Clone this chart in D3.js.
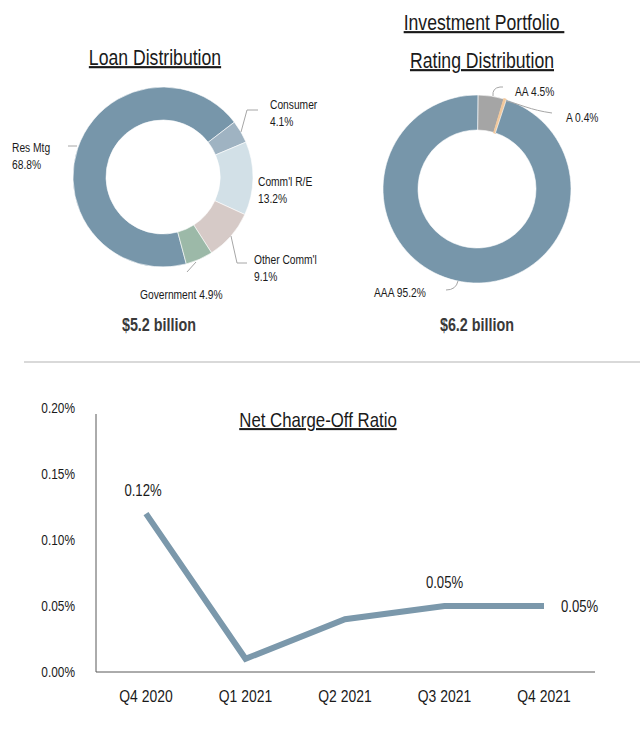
<!DOCTYPE html>
<html><head><meta charset="utf-8">
<script src="https://cdn.jsdelivr.net/npm/d3@7"></script>
<style>
html,body{margin:0;padding:0;background:#fff;}
text{font-family:"Liberation Sans",Arial,sans-serif;fill:#1a1a1a;}
</style></head>
<body>
<svg id="c" width="640" height="729"></svg>
<script>
// ---- data ----
const loanCategories = ["Res Mtg", "Consumer", "Comm'l R/E", "Other Comm'l", "Government"];
const loanValues = [68.8, 4.1, 13.2, 9.1, 4.9];
const ratingCategories = ["AA", "A", "AAA"];
const ratingValues = [4.5, 0.4, 95.2];
const quarters = ["Q4 2020", "Q1 2021", "Q2 2021", "Q3 2021", "Q4 2021"];
const ncoValues = [0.12, 0.01, 0.04, 0.05, 0.05];
const ncoLabels = ["0.12%", null, null, "0.05%", "0.05%"];
const yTicks = [0, 0.05, 0.10, 0.15, 0.20];

// ---- styles ----
const loanColors = ["#7796aa", "#9fb3c2", "#d2e0e7", "#d6cac7", "#9cb9a8"];
const ratingColors = ["#a5a5a5", "#f2c89c", "#7796aa"];
const lineColor = "#7b98ab";
const leaderColor = "#a6a6a6";
const SX = 0.82; // narrow-font emulation

const svg = d3.select("#c");
const marks = svg.append("g");
const texts = svg.append("g").attr("transform", `scale(${SX},1)`);

function T(x, y, s, size, opts = {}) {
  const t = texts.append("text").attr("x", x / SX).attr("y", y)
    .attr("text-anchor", opts.anchor || "start").style("font-size", size + "px");
  if (opts.bold) t.style("font-weight", "bold");
  if (opts.fill) t.style("fill", opts.fill);
  if (opts.underline) t.style("text-decoration", "underline");
  if (Array.isArray(s)) s.forEach((p, k) => t.append("tspan").attr("x", x / SX).attr("dy", k ? (opts.lh || 17) : 0).text(p));
  else t.text(s);
  return t;
}

// ---- Loan Distribution ----
T(155, 65, "Loan Distribution", 21.5, {anchor: "middle", underline: true});
const lc = {x: 163, y: 177};
const loanPie = d3.pie().sort(null).value(d => d)
  .startAngle(-195 * Math.PI / 180).endAngle(165 * Math.PI / 180);
const loanArc = d3.arc().innerRadius(57).outerRadius(90);
const lg = marks.append("g").attr("transform", `translate(${lc.x},${lc.y})`);
lg.selectAll("path").data(loanPie(loanValues)).join("path")
  .attr("d", loanArc).attr("fill", (d, i) => loanColors[i])
  .attr("stroke", "#fff").attr("stroke-width", 0.6);

const loanLabelLayout = [
  {x: 12, y: 152, leader: [[68, 146], [77, 146]]},
  {x: 270, y: 109, leader: [[241, 132], [247, 110], [258, 110]]},
  {x: 258, y: 186, leader: null},
  {x: 254, y: 264, leader: [[231, 236], [237, 263], [247, 263]]},
  {x: 140, y: 299, leader: [[196, 262], [187, 272]]}
];
loanLabelLayout.forEach((L, i) => {
  const pct = loanValues[i].toFixed(1) + "%";
  const parts = i === 4 ? [loanCategories[i] + " " + pct] : [loanCategories[i], pct];
  T(L.x, L.y, parts, 12.5);
  if (L.leader) marks.append("path").attr("d", d3.line()(L.leader)).attr("fill", "none")
    .attr("stroke", leaderColor).attr("stroke-width", 1);
});
T(159, 331, "$5.2 billion", 17.5, {anchor: "middle", bold: true, fill: "#3a3a3a"});

// ---- Investment Portfolio ----
T(484, 30, "Investment Portfolio\u00a0", 21.5, {anchor: "middle", underline: true});
T(482, 68, "Rating Distribution", 21.5, {anchor: "middle", underline: true});
const ic = {x: 477, y: 189};
const ratingPie = d3.pie().sort(null).value(d => d).startAngle(0.01).endAngle(2 * Math.PI + 0.01);
const ratingArc = d3.arc().innerRadius(59).outerRadius(94);
const ig = marks.append("g").attr("transform", `translate(${ic.x},${ic.y})`);
ig.selectAll("path").data(ratingPie(ratingValues)).join("path")
  .attr("d", ratingArc).attr("fill", (d, i) => ratingColors[i])
  .attr("stroke", (d, i) => i === 1 ? ratingColors[1] : "#fff").attr("stroke-width", (d, i) => i === 1 ? 1.5 : 0.6);

const ratingLabelLayout = [
  {x: 515, y: 96, leader: "M493,96 Q492,88 500,87 L503,87"},
  {x: 566, y: 122, leader: "M506,101 C520,104 530,110 552,113"},
  {x: 374, y: 297, leader: "M458,281 Q456,290 446,290"}
];
ratingLabelLayout.forEach((L, i) => {
  T(L.x, L.y, ratingCategories[i] + " " + ratingValues[i].toFixed(1) + "%", 12.5);
  marks.append("path").attr("d", L.leader).attr("fill", "none").attr("stroke", leaderColor).attr("stroke-width", 1);
});
T(477, 331, "$6.2 billion", 17.5, {anchor: "middle", bold: true, fill: "#3a3a3a"});

// ---- divider ----
marks.append("line").attr("x1", 24).attr("x2", 640).attr("y1", 362).attr("y2", 362)
  .attr("stroke", "#d9d9d9").attr("stroke-width", 2);

// ---- Net Charge-Off Ratio ----
const x = d3.scalePoint().domain(quarters).range([146, 544]);
const y = d3.scaleLinear().domain([0, 0.20]).range([672, 408]);
marks.append("line").attr("x1", 96).attr("x2", 96).attr("y1", 414).attr("y2", 672).attr("stroke", "#595959");
marks.append("line").attr("x1", 96).attr("x2", 595).attr("y1", 672).attr("y2", 672).attr("stroke", "#595959");
yTicks.forEach(d => T(75, y(d) + 5, d.toFixed(2) + "%", 14.5, {anchor: "end"}));
quarters.forEach(d => T(x(d), 702, d, 17, {anchor: "middle"}));

T(318, 427, "Net Charge-Off Ratio", 20.5, {anchor: "middle", underline: true});

marks.append("path").datum(ncoValues)
  .attr("d", d3.line().x((d, i) => x(quarters[i])).y(d => y(d)))
  .attr("fill", "none").attr("stroke", lineColor).attr("stroke-width", 6).attr("stroke-linejoin", "miter");

const lblPos = [
  {dx: -3, dy: -18, anchor: "middle"},
  null, null,
  {dx: 0, dy: -18, anchor: "middle"},
  {dx: 17, dy: 6, anchor: "start"}
];
ncoValues.forEach((v, i) => {
  if (!ncoLabels[i]) return;
  const p = lblPos[i];
  T(x(quarters[i]) + p.dx, y(v) + p.dy, ncoLabels[i], 16, {anchor: p.anchor});
});
</script>
</body></html>
